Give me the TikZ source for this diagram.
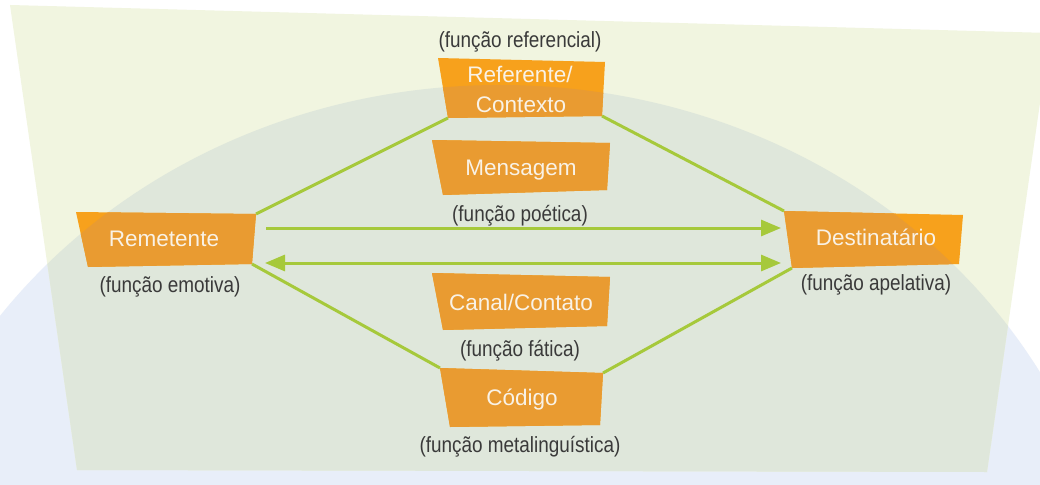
\documentclass[tikz,border=0pt]{standalone}
\usepackage{fontspec}
\setmainfont{Liberation Sans}
\newfontfamily\lblfont[FakeStretch=0.86]{Liberation Sans}
\usetikzlibrary{arrows.meta}
\definecolor{bgyellow}{HTML}{F1F5E0}
\definecolor{bgblue}{HTML}{E8EEF9}
\definecolor{bgmix}{HTML}{DFE7DB}
\definecolor{orgbright}{HTML}{F7A11C}
\definecolor{orgdark}{HTML}{E99B31}
\definecolor{lgreen}{HTML}{A6C93B}
\definecolor{lbltext}{HTML}{3A3A3A}
\definecolor{boxtext}{HTML}{F9F2E6}
\newcommand\bgellipse{(500,650) ellipse [x radius=620pt, y radius=565pt]}
\newcommand\orgbox[5]{%
  \coordinate (#1-tl) at #2;
  \coordinate (#1-tr) at #3;
  \coordinate (#1-br) at #4;
  \coordinate (#1-bl) at #5;
  \fill[orgbright] (#1-tl) -- (#1-tr) -- (#1-br) -- (#1-bl) -- cycle;
  \begin{scope}
    \clip (500,650) ellipse [x radius=620pt, y radius=565pt];
    \fill[orgdark] (#1-tl) -- (#1-tr) -- (#1-br) -- (#1-bl) -- cycle;
  \end{scope}}
\begin{document}
\begin{tikzpicture}[x=1pt,y=-1pt,
  boxtxt/.style={text=boxtext, font=\fontsize{22.5}{30}\selectfont, align=center, inner sep=0pt, anchor=base},
  lbl/.style={text=lbltext, font=\lblfont\fontsize{22}{26}\selectfont, inner sep=0pt, anchor=base},
  link/.style={draw=lgreen, line width=3pt},
  arr/.style={link, -{Triangle[length=20pt,width=16pt]}},
  darr/.style={link, {Triangle[length=20pt,width=16pt]}-{Triangle[length=20pt,width=16pt]}}
]
\useasboundingbox (0,0) rectangle (1040,484);
% background
\fill[white] (0,0) rectangle (1040,484);
\begin{scope}
  \clip (0,0) rectangle (1040,484);
  \fill[bgblue] (500,650) ellipse [x radius=620pt, y radius=565pt];
  \fill[bgyellow] (10,5) -- (1050,33) -- (987,472) -- (77,470) -- cycle;
  \clip (500,650) ellipse [x radius=620pt, y radius=565pt];
  \fill[bgmix] (10,5) -- (1050,33) -- (987,472) -- (77,470) -- cycle;
\end{scope}

% boxes
\orgbox{rembox}{(76,212)}{(256,214)}{(252,264)}{(88,267)}
\orgbox{desbox}{(784,211)}{(963,215)}{(959,264)}{(792,268)}
\orgbox{refbox}{(438,58)}{(605,62)}{(602,116)}{(448,118)}
\orgbox{menbox}{(432,140)}{(610,143)}{(607,190)}{(443,195)}
\orgbox{canbox}{(432,273)}{(610,277)}{(607,326)}{(443,330)}
\orgbox{codbox}{(440,368)}{(603,373)}{(600,425)}{(450,427)}

% box texts
\node[boxtxt] (rem) at (164,246) {Remetente};
\node[boxtxt] (des) at (876,245) {Destinatário};
\node[boxtxt] (ref1) at (520,83) {Referente/};
\node[boxtxt] (ref2) at (521,113) {Contexto};
\node[boxtxt] (men) at (521,175) {Mensagem};
\node[boxtxt] (can) at (521,310) {Canal/Contato};
\node[boxtxt] (cod) at (522,405) {Código};

% labels
\node[lbl] (lrem) at (170,292) {(função emotiva)};
\node[lbl] (ldes) at (876,290) {(função apelativa)};
\node[lbl] (lref) at (520,48) {(função referencial)};
\node[lbl] (lmen) at (520,221) {(função poética)};
\node[lbl] (lcan) at (520,356) {(função fática)};
\node[lbl] (lcod) at (520,452) {(função metalinguística)};

% connectors
\draw[link] (rembox-tr) -- (refbox-bl);
\draw[link] (refbox-br) -- (desbox-tl);
\draw[link] (rembox-br) -- (codbox-tl);
\draw[link] (codbox-tr) -- (desbox-bl);
\coordinate (a1s) at (266,228);
\coordinate (a1e) at (781,228);
\coordinate (a2s) at (265,263);
\coordinate (a2e) at (781,263);
\draw[arr] (a1s) -- (a1e);
\draw[darr] (a2s) -- (a2e);
\end{tikzpicture}
\end{document}
